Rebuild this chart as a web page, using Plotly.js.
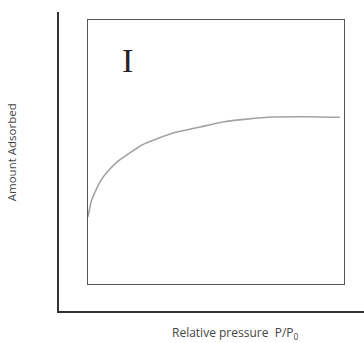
<!DOCTYPE html>
<html>
<head>
<meta charset="utf-8">
<script src="https://cdn.plot.ly/plotly-3.0.1.min.js"></script>
<style>
  html, body { margin: 0; padding: 0; background: #fff; }
  #chart { width: 364px; height: 343px; }
</style>
</head>
<body>
<div id="chart"></div>
<script>
// Type I adsorption isotherm (Langmuir-like): relative pressure vs amount adsorbed
const relPressure = [0, 0.004, 0.012, 0.031, 0.051, 0.082, 0.113, 0.152, 0.211, 0.332, 0.438, 0.527, 0.621, 0.723, 0.855, 0.984];
const amountAdsorbed = [0.255, 0.273, 0.311, 0.356, 0.394, 0.432, 0.462, 0.489, 0.527, 0.572, 0.595, 0.614, 0.625, 0.633, 0.634, 0.632];
const isothermLabel = 'I';
const xTitle = 'Relative pressure  P/P<sub>0</sub>';
const yTitle = 'Amount Adsorbed';

const hidden = {
  showgrid: false, zeroline: false, showticklabels: false, ticks: '', fixedrange: true
};

const traces = [
  {
    x: relPressure, y: amountAdsorbed,
    xaxis: 'x', yaxis: 'y',
    type: 'scatter', mode: 'lines',
    line: { color: '#a3a3a3', width: 1.6, shape: 'spline', smoothing: 0.6 },
    hoverinfo: 'skip', showlegend: false
  },
  {
    // empty trace that places the outer L-shaped frame
    x: [], y: [], xaxis: 'x2', yaxis: 'y2',
    type: 'scatter', mode: 'lines', hoverinfo: 'skip', showlegend: false
  }
];

const layout = {
  width: 364, height: 343,
  margin: { l: 59, r: 0, t: 12, b: 32 },
  paper_bgcolor: '#ffffff', plot_bgcolor: 'rgba(0,0,0,0)',
  font: { family: 'Open Sans, Liberation Sans, sans-serif', color: '#444' },
  showlegend: false,
  // inner boxed plot
  xaxis: Object.assign({}, hidden, {
    domain: [0.095, 0.934], range: [0, 1],
    showline: true, mirror: true, linecolor: '#555', linewidth: 1.3
  }),
  yaxis: Object.assign({}, hidden, {
    domain: [0.090, 0.973], range: [0, 1],
    showline: true, mirror: true, linecolor: '#555', linewidth: 1.3
  }),
  // outer axes (left and bottom only)
  xaxis2: Object.assign({}, hidden, {
    domain: [0, 1], range: [0, 1], anchor: 'y2',
    showline: true, linecolor: '#333', linewidth: 1.6
  }),
  yaxis2: Object.assign({}, hidden, {
    domain: [0, 1], range: [0, 1], anchor: 'x2',
    showline: true, linecolor: '#333', linewidth: 1.6
  }),
  annotations: [
    {
      text: isothermLabel, xref: 'x', yref: 'y', x: 0.156, y: 0.845,
      showarrow: false, xanchor: 'center', yanchor: 'middle',
      font: { family: 'Liberation Serif, DejaVu Serif, serif', size: 34, color: '#222' }
    },
    {
      text: xTitle, xref: 'paper', yref: 'paper', x: 0.58, y: -0.072,
      showarrow: false, xanchor: 'center', yanchor: 'middle',
      font: { size: 12, color: '#444' }
    },
    {
      text: yTitle, xref: 'paper', yref: 'paper', x: -0.155, y: 0.53,
      showarrow: false, xanchor: 'center', yanchor: 'middle', textangle: -90,
      font: { size: 11.5, color: '#444' }
    }
  ]
};

Plotly.newPlot('chart', traces, layout, { displayModeBar: false, staticPlot: true });
</script>
</body>
</html>
